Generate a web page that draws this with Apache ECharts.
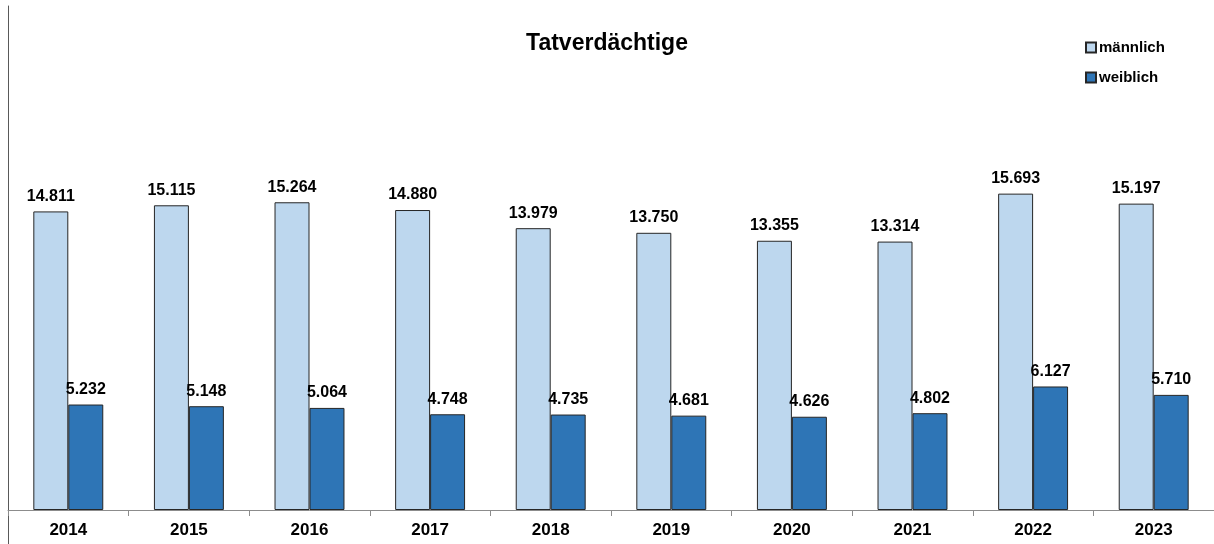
<!DOCTYPE html>
<html>
<head>
<meta charset="utf-8">
<script src="https://cdn.jsdelivr.net/npm/echarts@6/dist/echarts.min.js"></script>
<style>
  html, body { margin: 0; padding: 0; background: #fff; }
  #chart { width: 1214px; height: 544px; }
</style>
</head>
<body>
<div id="chart"></div>
<script>
const years = ['2014', '2015', '2016', '2017', '2018', '2019', '2020', '2021', '2022', '2023']
const maennlich = [14811, 15115, 15264, 14880, 13979, 13750, 13355, 13314, 15693, 15197]
const weiblich = [5232, 5148, 5064, 4748, 4735, 4681, 4626, 4802, 6127, 5710]

const fontFamily = 'Liberation Sans, Arial, sans-serif'
// 14811 -> "14.811"
const fmt = (p) => String(p.value).replace(/\B(?=(\d{3})+(?!\d))/g, '.')

const chart = echarts.init(document.getElementById('chart'))

const option = {
  animation: false,
  textStyle: { fontFamily: fontFamily },
  title: {
    text: 'Tatverdächtige',
    left: 'center',
    top: 27,
    textStyle: { fontSize: 23, fontWeight: 'bold', color: '#000', fontFamily: fontFamily }
  },
  legend: {
    orient: 'vertical',
    left: 1080,
    top: 35,
    itemWidth: 10,
    itemHeight: 10,
    itemGap: 15,
    icon: 'rect',
    textStyle: { fontSize: 15, fontWeight: 'bold', color: '#000', padding: [0, 0, 0, -2] },
    data: ['männlich', 'weiblich']
  },
  grid: {
    left: 8,
    right: 0,
    top: 6,
    bottom: 34,
    containLabel: false,
    outerBoundsMode: 'none'
  },
  // the vertical axis line runs on below the category axis
  graphic: [
    {
      type: 'line',
      shape: { x1: 8.5, y1: 510, x2: 8.5, y2: 544 },
      style: { stroke: '#595959', lineWidth: 1 },
      silent: true
    }
  ],
  xAxis: {
    type: 'category',
    data: years,
    axisLine: { lineStyle: { color: '#8c8c8c', width: 1 } },
    axisTick: { show: true, inside: false, length: 6, lineStyle: { color: '#8c8c8c' } },
    axisLabel: { fontSize: 17, fontWeight: 'bold', color: '#000', margin: 12 }
  },
  yAxis: {
    type: 'value',
    min: 0,
    max: 25000,
    axisLine: { show: true, lineStyle: { color: '#595959', width: 1 } },
    axisTick: { show: false },
    axisLabel: { show: false },
    splitLine: { show: false }
  },
  series: [
    {
      name: 'männlich',
      type: 'bar',
      data: maennlich,
      barGap: '0%',
      barCategoryGap: '42%',
      itemStyle: { color: '#BDD7EE', borderColor: '#262626', borderWidth: 1 },
      label: {
        show: true,
        position: 'top',
        distance: 7,
        fontSize: 16,
        fontWeight: 'bold',
        color: '#000',
        formatter: fmt
      }
    },
    {
      name: 'weiblich',
      type: 'bar',
      data: weiblich,
      itemStyle: { color: '#2E75B6', borderColor: '#262626', borderWidth: 1 },
      label: {
        show: true,
        position: 'top',
        distance: 7,
        fontSize: 16,
        fontWeight: 'bold',
        color: '#000',
        formatter: fmt
      }
    }
  ]
}

chart.setOption(option)
</script>
</body>
</html>
